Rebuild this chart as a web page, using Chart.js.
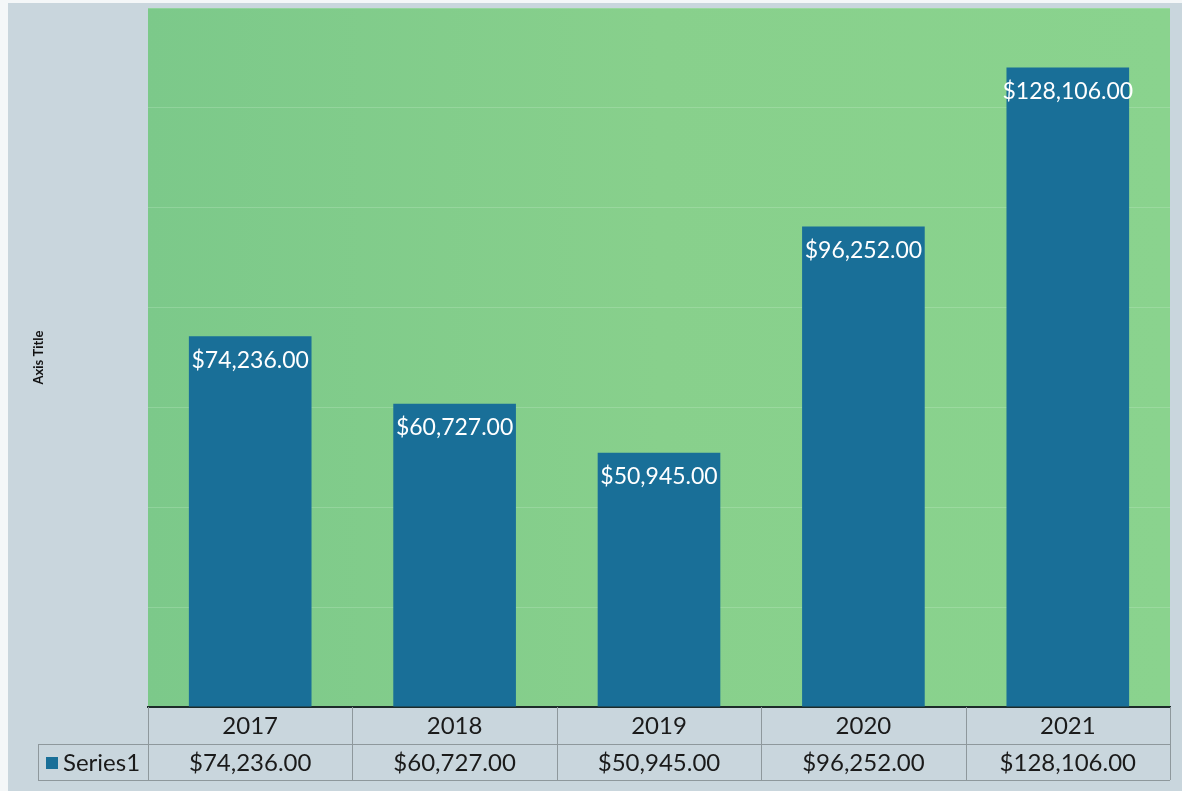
<!DOCTYPE html>
<html>
<head>
<meta charset="utf-8">
<script src="https://cdn.jsdelivr.net/npm/chart.js@4"></script>
<style>
  html, body { margin: 0; padding: 0; background: #ffffff; }
  #wrap { width: 1182px; height: 791px; }
</style>
</head>
<body>
<div id="wrap"><canvas id="salesChart" width="1182" height="791"></canvas></div>
<script>
// 차트 데이터
const years = ['2017', '2018', '2019', '2020', '2021'];
const series1 = [74236, 60727, 50945, 96252, 128106];
const seriesName = 'Series1';
const yMax = 140000;
const yStep = 20000;

const FONT = 'Lato, "Open Sans", sans-serif';
const barColor = '#196f98';

function money(v) {
    return '$' + v.toLocaleString('en-US', { minimumFractionDigits: 2, maximumFractionDigits: 2 });
}

// 배경 + 플롯 영역 색
const bgPlugin = {
    id: 'bgPlugin',
    beforeDraw(chart) {
        const ctx = chart.ctx;
        const a = chart.chartArea;
        ctx.save();
        ctx.fillStyle = '#c9d6dd';
        ctx.fillRect(0, 0, chart.width, chart.height);
        ctx.fillStyle = '#f4f7f8';
        ctx.fillRect(0, 0, 8, chart.height);
        ctx.fillRect(0, 0, chart.width, 3);
        const g = ctx.createLinearGradient(a.left, 0, a.right, 0);
        g.addColorStop(0, '#7cc98a');
        g.addColorStop(0.5, '#88d08c');
        g.addColorStop(1, '#8ad38e');
        ctx.fillStyle = g;
        ctx.fillRect(a.left, a.top, a.right - a.left, a.bottom - a.top);
        ctx.restore();
    }
};

// 막대 위 값 라벨 + 아래 데이터 테이블
const tablePlugin = {
    id: 'tablePlugin',
    afterDraw(chart) {
        const ctx = chart.ctx;
        const a = chart.chartArea;
        const xs = chart.scales.x;
        const meta = chart.getDatasetMeta(0);
        ctx.save();

        // 값 라벨
        ctx.fillStyle = '#ffffff';
        ctx.font = '23px ' + FONT;
        ctx.textAlign = 'center';
        ctx.textBaseline = 'middle';
        meta.data.forEach((bar, i) => {
            ctx.fillText(money(series1[i]), bar.x, bar.y + 24);
        });

        // 테이블
        const row1Top = a.bottom;
        const row2Top = a.bottom + 37;
        const rowBottom = a.bottom + 73;
        const tableLeft = 38;
        const half = (xs.getPixelForValue(1) - xs.getPixelForValue(0)) / 2;

        ctx.strokeStyle = '#8e989c';
        ctx.lineWidth = 1;
        ctx.beginPath();
        ctx.moveTo(tableLeft, row2Top + 0.5);
        ctx.lineTo(a.right, row2Top + 0.5);
        ctx.moveTo(tableLeft, rowBottom + 0.5);
        ctx.lineTo(a.right, rowBottom + 0.5);
        ctx.moveTo(tableLeft + 0.5, row2Top);
        ctx.lineTo(tableLeft + 0.5, rowBottom);
        for (let i = 0; i <= years.length; i++) {
            const x = Math.round(xs.getPixelForValue(0) - half + i * 2 * half) + 0.5;
            ctx.moveTo(x, row1Top);
            ctx.lineTo(x, rowBottom);
        }
        ctx.stroke();

        ctx.fillStyle = '#1a1a1a';
        ctx.font = '24px ' + FONT;
        years.forEach((y, i) => {
            const x = xs.getPixelForValue(i);
            ctx.fillText(y, x, row1Top + 19);
            ctx.fillText(money(series1[i]), x, row2Top + 19);
        });

        // 범례 키
        ctx.fillStyle = barColor;
        ctx.fillRect(46, row2Top + 13, 12, 12);
        ctx.fillStyle = '#1a1a1a';
        ctx.textAlign = 'left';
        ctx.fillText(seriesName, 63, row2Top + 19);

        ctx.restore();
    }
};

const ctx = document.getElementById('salesChart').getContext('2d');
window.chart = new Chart(ctx, {
    type: 'bar',
    data: {
        labels: years,
        datasets: [{
            label: seriesName,
            data: series1,
            backgroundColor: barColor,
            borderWidth: 0,
            barPercentage: 0.6,
            categoryPercentage: 1.0
        }]
    },
    options: {
        responsive: false,
        animation: false,
        layout: {
            padding: { left: 0, top: 8, right: 12, bottom: 76 }
        },
        plugins: {
            legend: { display: false },
            tooltip: { enabled: false }
        },
        scales: {
            x: {
                ticks: { display: false },
                grid: { display: false },
                border: { display: true, color: '#1d2b2a', width: 2 }
            },
            y: {
                min: 0,
                max: yMax,
                ticks: { display: false, stepSize: yStep },
                grid: { color: 'rgba(220,245,225,0.22)', lineWidth: 1, drawTicks: false },
                border: { display: false },
                title: {
                    display: true,
                    text: 'Axis Title',
                    color: '#111111',
                    font: { family: FONT, size: 13, weight: 'bold' },
                    padding: { top: 31, bottom: 0 }
                },
                afterFit(scale) {
                    scale.width = 148;
                }
            }
        }
    },
    plugins: [bgPlugin, tablePlugin]
});
</script>
</body>
</html>
